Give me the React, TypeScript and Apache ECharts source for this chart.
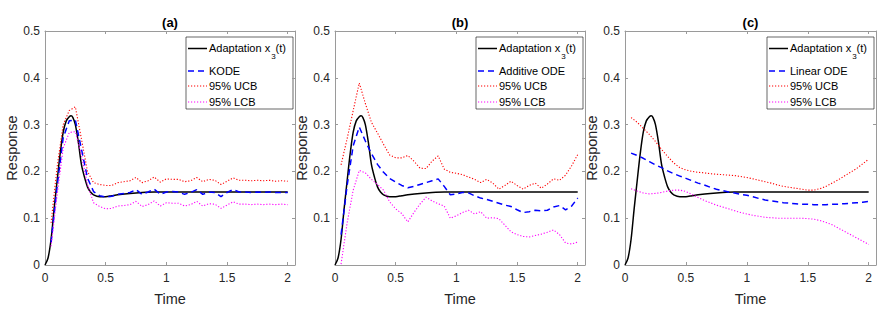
import React, { useEffect, useRef } from 'react';
import * as echarts from 'echarts';

const FONT = "'Liberation Sans', Arial, Helvetica, sans-serif";
const AXIS_COLOR = '#9a9a9a';
const TEXT_COLOR = '#262626';

// Fine time grid for the true adaptation response x3(t)
const ADAPT_TIME = [0, 0.025, 0.05, 0.075, 0.1, 0.125, 0.15, 0.175, 0.2, 0.215, 0.23, 0.25, 0.275, 0.3, 0.325, 0.35, 0.375, 0.4, 0.45, 0.5, 0.55, 0.6, 0.7, 0.8, 0.9, 1.0, 1.25, 1.5, 1.75, 2.0];
const ADAPTATION = [0, 0.015, 0.055, 0.12, 0.18, 0.238, 0.284, 0.308, 0.317, 0.319, 0.315, 0.3, 0.262, 0.215, 0.188, 0.167, 0.156, 0.15, 0.146, 0.146, 0.148, 0.15, 0.153, 0.155, 0.156, 0.156, 0.156, 0.156, 0.156, 0.156];

// Sampling times of the estimates (0.05 .. 2.0)
const TIME = [0.05, 0.1, 0.15, 0.2, 0.25, 0.3, 0.35, 0.4, 0.45, 0.5, 0.55, 0.6, 0.65, 0.7, 0.75, 0.8, 0.85, 0.9, 0.95, 1.0, 1.05, 1.1, 1.15, 1.2, 1.25, 1.3, 1.35, 1.4, 1.45, 1.5, 1.55, 1.6, 1.65, 1.7, 1.75, 1.8, 1.85, 1.9, 1.95, 2.0];

// (a) KODE
const KODE = [0.048, 0.168, 0.272, 0.308, 0.31, 0.248, 0.186, 0.157, 0.148, 0.145, 0.147, 0.151, 0.153, 0.155, 0.161, 0.151, 0.156, 0.162, 0.151, 0.156, 0.157, 0.156, 0.151, 0.155, 0.161, 0.151, 0.156, 0.155, 0.146, 0.155, 0.161, 0.156, 0.156, 0.155, 0.156, 0.155, 0.156, 0.155, 0.155, 0.155];
const UCB_A = [0.09, 0.21, 0.3, 0.33, 0.338, 0.27, 0.2, 0.176, 0.172, 0.17, 0.17, 0.176, 0.178, 0.18, 0.187, 0.176, 0.18, 0.188, 0.177, 0.184, 0.183, 0.183, 0.178, 0.18, 0.187, 0.178, 0.183, 0.181, 0.172, 0.179, 0.186, 0.181, 0.181, 0.18, 0.181, 0.18, 0.181, 0.179, 0.18, 0.179];
const LCB_A = [0.04, 0.15, 0.25, 0.283, 0.285, 0.235, 0.172, 0.133, 0.125, 0.12, 0.121, 0.126, 0.127, 0.129, 0.136, 0.125, 0.129, 0.137, 0.126, 0.133, 0.132, 0.132, 0.126, 0.129, 0.136, 0.126, 0.131, 0.13, 0.121, 0.128, 0.135, 0.13, 0.13, 0.129, 0.13, 0.129, 0.13, 0.129, 0.13, 0.129];

// (b) Additive ODE
const ADDITIVE = [0.065, 0.17, 0.255, 0.295, 0.265, 0.238, 0.215, 0.198, 0.185, 0.177, 0.17, 0.165, 0.168, 0.172, 0.176, 0.18, 0.184, 0.168, 0.15, 0.152, 0.155, 0.154, 0.148, 0.143, 0.14, 0.136, 0.132, 0.128, 0.125, 0.118, 0.112, 0.114, 0.117, 0.116, 0.117, 0.124, 0.127, 0.118, 0.126, 0.143];
const UCB_B = [0.214, 0.27, 0.33, 0.389, 0.345, 0.305, 0.282, 0.258, 0.235, 0.229, 0.229, 0.234, 0.222, 0.207, 0.206, 0.222, 0.233, 0.205, 0.198, 0.196, 0.193, 0.188, 0.183, 0.176, 0.183, 0.175, 0.162, 0.17, 0.179, 0.17, 0.162, 0.17, 0.175, 0.164, 0.173, 0.184, 0.181, 0.192, 0.212, 0.236];
const LCB_B = [0.002, 0.09, 0.16, 0.202, 0.197, 0.183, 0.172, 0.16, 0.135, 0.12, 0.11, 0.092, 0.112, 0.13, 0.145, 0.137, 0.131, 0.126, 0.1, 0.105, 0.112, 0.117, 0.109, 0.114, 0.1, 0.101, 0.099, 0.085, 0.071, 0.065, 0.061, 0.06, 0.063, 0.066, 0.07, 0.075, 0.065, 0.047, 0.045, 0.049];

// (c) Linear ODE
const LINEAR = [0.239, 0.234, 0.228, 0.221, 0.214, 0.208, 0.201, 0.195, 0.19, 0.185, 0.18, 0.175, 0.171, 0.166, 0.162, 0.159, 0.156, 0.154, 0.151, 0.149, 0.146, 0.142, 0.139, 0.137, 0.135, 0.133, 0.132, 0.131, 0.13, 0.13, 0.129, 0.129, 0.129, 0.13, 0.13, 0.131, 0.132, 0.133, 0.134, 0.136];
const UCB_C = [0.315, 0.305, 0.292, 0.279, 0.264, 0.247, 0.232, 0.218, 0.208, 0.203, 0.2, 0.198, 0.197, 0.195, 0.194, 0.193, 0.192, 0.191, 0.189, 0.187, 0.184, 0.181, 0.178, 0.175, 0.171, 0.168, 0.166, 0.164, 0.162, 0.16, 0.16, 0.163, 0.168, 0.175, 0.182, 0.19, 0.198, 0.206, 0.216, 0.226];
const LCB_C = [0.163, 0.158, 0.154, 0.152, 0.153, 0.155, 0.158, 0.16, 0.16, 0.157, 0.151, 0.144, 0.138, 0.133, 0.128, 0.124, 0.12, 0.116, 0.112, 0.109, 0.106, 0.104, 0.102, 0.101, 0.1, 0.1, 0.1, 0.1, 0.1, 0.099, 0.098, 0.095, 0.091, 0.086, 0.079, 0.072, 0.065, 0.058, 0.051, 0.044];

const X_TICKS = [0, 0.5, 1, 1.5, 2];
const Y_TICKS = [0, 0.1, 0.2, 0.3, 0.4, 0.5];

const TITLES = ['(a)', '(b)', '(c)'];
const MODEL_NAMES = ['KODE', 'Additive ODE', 'Linear ODE'];
const MODELS = [KODE, ADDITIVE, LINEAR];
const UCBS = [UCB_A, UCB_B, UCB_C];
const LCBS = [LCB_A, LCB_B, LCB_C];

const GRID_LEFT = [45, 335, 625];
const GRID_WIDTH = [250, 250, 251];
const GRID_TOP = 31;
const GRID_HEIGHT = 234;
const X_MAX = 2.06;

const BLACK = '#000000';
const BLUE = '#0000ff';
const RED = '#ff0000';
const MAGENTA = '#ff00ff';
const DASH = [6, 4];
const DOT = [1.2, 1.8];

const zip = (xs: number[], ys: number[]) => ys.map((y, i) => [xs[i], y]);

function buildOption() {
  const grid: any[] = [];
  const xAxis: any[] = [];
  const yAxis: any[] = [];
  const series: any[] = [];
  const graphic: any[] = [];

  for (let i = 0; i < 3; i++) {
    grid.push({ left: GRID_LEFT[i], top: GRID_TOP, width: GRID_WIDTH[i], height: GRID_HEIGHT, containLabel: false });
    const axisLine = { show: true, onZero: false, lineStyle: { color: AXIS_COLOR, width: 1 } };
    const tickCommon = { show: true, inside: true, length: 3, lineStyle: { color: AXIS_COLOR, width: 1 } };
    xAxis.push({
      type: 'value', gridIndex: i, min: 0, max: X_MAX, position: 'bottom',
      name: 'Time', nameLocation: 'middle', nameGap: 26,
      nameTextStyle: { fontSize: 14.5, color: TEXT_COLOR, fontFamily: FONT },
      axisLine,
      axisTick: { ...tickCommon, customValues: X_TICKS },
      axisLabel: { margin: 7, fontSize: 12, color: TEXT_COLOR, fontFamily: FONT, customValues: X_TICKS, formatter: (v: number) => String(+v.toFixed(2)) },
      splitLine: { show: false },
    });
    xAxis.push({
      type: 'value', gridIndex: i, min: 0, max: X_MAX, position: 'top',
      axisLine,
      axisTick: { ...tickCommon, customValues: X_TICKS },
      axisLabel: { show: false },
      splitLine: { show: false },
    });
    const hideZero = i === 1;
    yAxis.push({
      type: 'value', gridIndex: i, min: 0, max: 0.5, interval: 0.1, position: 'left',
      name: 'Response', nameLocation: 'middle', nameGap: 22,
      nameTextStyle: { fontSize: 14.5, color: TEXT_COLOR, fontFamily: FONT },
      axisLine,
      axisTick: { ...tickCommon, customValues: Y_TICKS },
      axisLabel: {
        margin: 5, fontSize: 12, color: TEXT_COLOR, fontFamily: FONT, customValues: hideZero ? Y_TICKS.slice(1) : Y_TICKS,
        formatter: (v: number) => String(+v.toFixed(1)),
      },
      splitLine: { show: false },
    });
    yAxis.push({
      type: 'value', gridIndex: i, min: 0, max: 0.5, interval: 0.1, position: 'right',
      axisLine,
      axisTick: { ...tickCommon, customValues: Y_TICKS },
      axisLabel: { show: false },
      splitLine: { show: false },
    });

    const xi = 2 * i;
    const yi = 2 * i;
    series.push({
      type: 'line', name: 'Adaptation x3(t)', xAxisIndex: xi, yAxisIndex: yi, showSymbol: false, symbol: 'none', smooth: 0.3,
      data: zip(ADAPT_TIME, ADAPTATION), lineStyle: { color: BLACK, width: 1.5 }, z: 2,
    });
    series.push({
      type: 'line', name: MODEL_NAMES[i], xAxisIndex: xi, yAxisIndex: yi, showSymbol: false, symbol: 'none',
      data: zip(TIME, MODELS[i]), lineStyle: { color: BLUE, width: 1.5, type: DASH }, z: 3,
    });
    series.push({
      type: 'line', name: '95% UCB', xAxisIndex: xi, yAxisIndex: yi, showSymbol: false, symbol: 'none',
      data: zip(TIME, UCBS[i]), lineStyle: { color: RED, width: 1.1, type: DOT }, z: 4,
    });
    series.push({
      type: 'line', name: '95% LCB', xAxisIndex: xi, yAxisIndex: yi, showSymbol: false, symbol: 'none',
      data: zip(TIME, LCBS[i]), lineStyle: { color: MAGENTA, width: 1.1, type: DOT }, z: 4,
    });

    const cx = GRID_LEFT[i] + GRID_WIDTH[i] / 2;
    graphic.push({
      type: 'text', x: cx, y: 22,
      style: { text: TITLES[i], fontSize: 13, fontWeight: 'bold', fontFamily: FONT, fill: '#000', align: 'center', verticalAlign: 'middle' },
    });

    const bx = GRID_LEFT[i] + GRID_WIDTH[i] - 109;
    const rows = [11.5, 34, 49, 65];
    const items = [
      { color: BLACK, width: 1.5, dash: null as any, label: null as any },
      { color: BLUE, width: 1.5, dash: DASH, label: MODEL_NAMES[i] },
      { color: RED, width: 1.1, dash: DOT, label: '95% UCB' },
      { color: MAGENTA, width: 1.1, dash: DOT, label: '95% LCB' },
    ];
    const children: any[] = [
      { type: 'rect', shape: { x: 0, y: 0, width: 107, height: 72 }, style: { fill: '#fff', stroke: '#262626', lineWidth: 0.7 } },
    ];
    items.forEach((it, k) => {
      children.push({
        type: 'line', shape: { x1: 2, y1: rows[k], x2: 21, y2: rows[k] },
        style: { stroke: it.color, lineWidth: it.width, lineDash: it.dash },
      });
      if (k === 0) {
        children.push({
          type: 'text', x: 23, y: rows[k] - 6.5,
          style: {
            text: '{m|Adaptation x}{s|3}{m|(t)}', verticalAlign: 'top', align: 'left', fill: '#000',
            rich: {
              m: { fontSize: 11, fontFamily: FONT, lineHeight: 13, verticalAlign: 'top', fill: '#000' },
              s: { fontSize: 8, fontFamily: FONT, lineHeight: 18, verticalAlign: 'bottom', fill: '#000', padding: [0, 0, 0, 1] },
            },
          },
        });
      } else {
        children.push({
          type: 'text', x: 23, y: rows[k],
          style: { text: it.label, fontSize: 11, fontFamily: FONT, fill: '#000', align: 'left', verticalAlign: 'middle' },
        });
      }
    });
    graphic.push({ type: 'group', x: bx, y: 37, z: 100, children });
  }

  return {
    animation: false,
    backgroundColor: '#ffffff',
    grid, xAxis, yAxis, series, graphic,
  };
}

export default function App() {
  const ref = useRef<HTMLDivElement>(null);
  useEffect(() => {
    if (!ref.current) return;
    const chart = echarts.init(ref.current, undefined, { renderer: 'svg' });
    chart.setOption(buildOption() as any);
    return () => chart.dispose();
  }, []);
  return <div ref={ref} style={{ position: 'fixed', left: 0, top: 0, width: 893, height: 312, background: '#fff' }} />;
}
